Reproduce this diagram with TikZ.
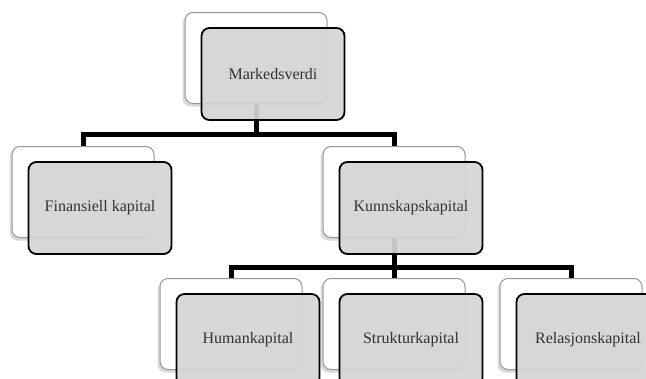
\documentclass[tikz,border=0pt]{standalone}
\usepackage{fontspec}
\setmainfont{Liberation Serif}
\usetikzlibrary{shadows}
\definecolor{frontgray}{RGB}{213,213,213}
\definecolor{backline}{RGB}{150,150,150}
\definecolor{txt}{RGB}{50,50,50}
\begin{document}
\begin{tikzpicture}[x=1pt,y=-1pt,
  backbox/.style={draw=backline, line width=1pt, fill=white, rounded corners=8pt,
    minimum width=142pt, minimum height=91pt, inner sep=0pt,
    drop shadow={shadow xshift=-2.5pt, shadow yshift=-3pt, opacity=0.3, fill=gray}},
  frontbox/.style={draw=black, line width=1.8pt, fill=frontgray, fill opacity=0.93, text opacity=1,
    rounded corners=8pt, minimum width=143pt, minimum height=92pt, inner sep=0pt,
    font=\fontsize{16}{18}\selectfont, text=txt},
  conn/.style={draw=black, line width=5pt, line join=miter}]
\useasboundingbox (0,0) rectangle (646,378);
\clip (0,0) rectangle (646,378);
\coordinate (l1) at (0,134.5);
\coordinate (l2) at (0,267);
% back boxes
\node[backbox] (bm) at (256,58) {};
\node[backbox] (bf) at (83,192) {};
\node[backbox] (bk) at (394,192) {};
\node[backbox] (bh) at (231,324) {};
\node[backbox] (bs) at (394,324) {};
\node[backbox] (br) at (571,324) {};
% connectors
\draw[conn] (bm.south) -- (bm.south |- l1) -| (bf.north);
\draw[conn] (bm.south |- l1) -| (bk.north);
\draw[conn] (bk.south) -- (bk.south |- l2) -| (bh.north);
\draw[conn] (bk.south |- l2) -| (br.north);
\draw[conn] (bk.south |- l2) -- (bs.north);
% front boxes
\node[frontbox] (fm) at (273,74) {Markedsverdi};
\node[frontbox] (ff) at (100,208) {Finansiell kapital};
\node[frontbox] (fk) at (411,208) {Kunnskapskapital};
\node[frontbox] (fh) at (248,340) {Humankapital};
\node[frontbox] (fs) at (411,340) {Strukturkapital};
\node[frontbox] (fr) at (588,340) {Relasjonskapital};
\end{tikzpicture}
\end{document}
